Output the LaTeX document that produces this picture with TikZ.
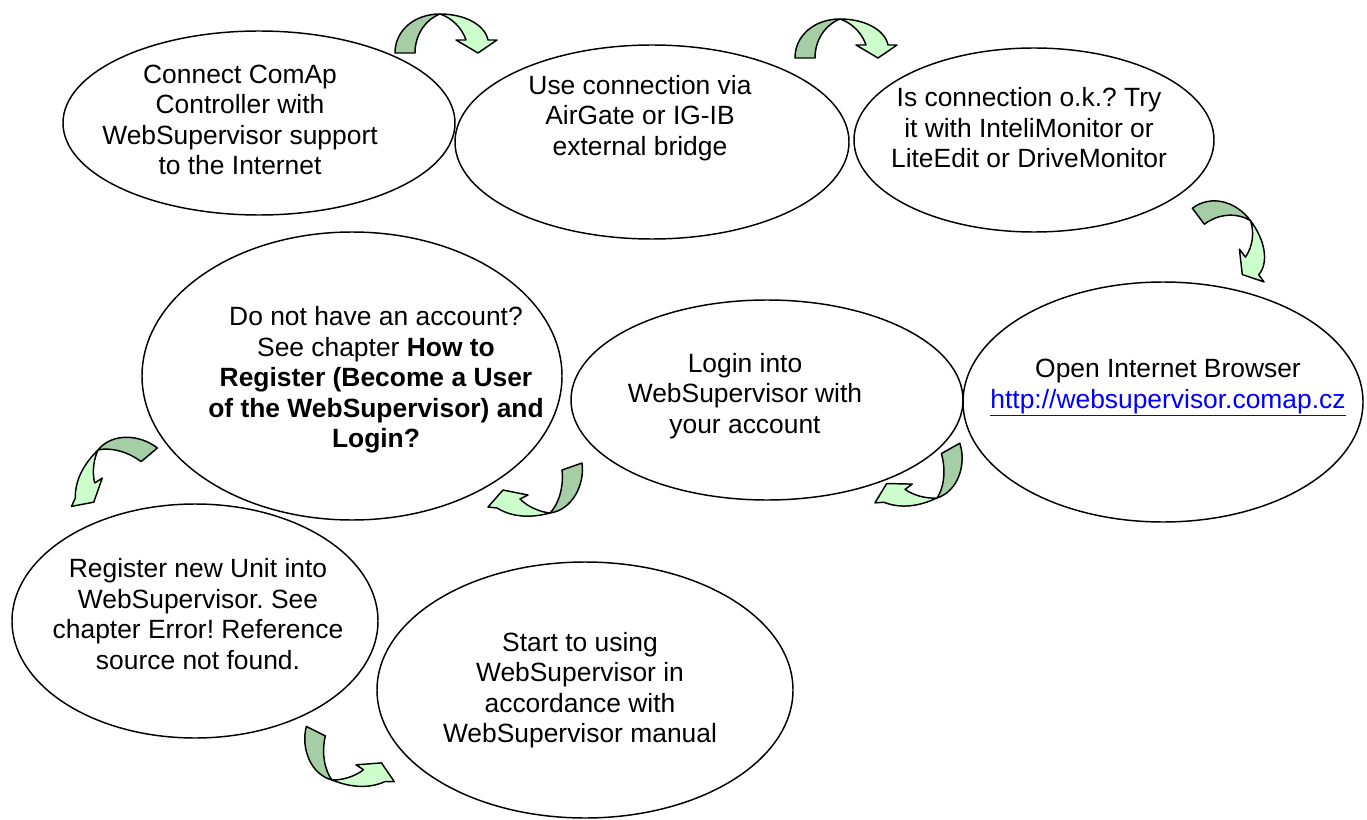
\documentclass[tikz,border=0pt]{standalone}
\usepackage{fontspec}
\setmainfont{Liberation Sans}
\usetikzlibrary{shapes.geometric}
\definecolor{arrdark}{RGB}{166,206,166}
\definecolor{arrlight}{RGB}{204,255,204}
\definecolor{linkblue}{RGB}{0,0,255}
\newcommand{\diafont}{\fontsize{19.8pt}{22.9pt}\selectfont\frenchspacing}
\begin{document}
\begin{tikzpicture}[x=0.75pt,y=-0.75pt,
  ell/.style 2 args={ellipse, draw, line width=1.1pt, inner sep=0pt,
    minimum width={#1*1.5pt}, minimum height={#2*1.5pt}},
  txt/.style={align=center, inner sep=0pt, font=\diafont},
  arrpart/.style={draw=black, line width=1.1pt, line join=round},
  pics/uarrow/.style={code={
    \filldraw[arrpart, fill=arrdark] (-46,0) .. controls (-46,-23) and (-26,-39) .. (-1,-39)
      .. controls (-16,-33) and (-26,-18) .. (-26,0) -- cycle;
    \filldraw[arrpart, fill=arrlight] (-1,-39) .. controls (24,-39) and (44,-28) .. (47,-13)
      -- (56,-13) -- (37,0) -- (15,-13) -- (25,-13)
      .. controls (21,-25) and (11,-35) .. (-1,-39) -- cycle;
  }},
  pics/qarrow/.style={code={
    \filldraw[arrpart, fill=arrdark] (32,-50) .. controls (35,-28) and (22,-3) .. (0,0)
      .. controls (8,-8) and (14,-25) .. (12,-43) -- cycle;
    \filldraw[arrpart, fill=arrlight] (0,0) .. controls (-15,4) and (-35,6) .. (-53,-5)
      -- (-62,-6) -- (-47,-23) -- (-22,-18) -- (-30,-14)
      .. controls (-22,-6) and (-10,-1) .. (0,0) -- cycle;
  }}]
\fill[white] (0,0) rectangle (1367,820);
\useasboundingbox (0,0) rectangle (1367,820);

% ellipses
\node[ell={196}{92}]  (e1) at (259,123) {};
\node[ell={197}{97}]  (e2) at (652,142) {};
\node[ell={180}{92}]  (e3) at (1034,140) {};
\node[ell={200}{120}] (e4) at (1163,402) {};
\node[ell={196}{100}] (e5) at (767,400) {};
\node[ell={210}{144}] (e6) at (352,376) {};
\node[ell={183}{117}] (e7) at (195,621) {};
\node[ell={208}{128}] (e8) at (585,690) {};

% texts
\node[txt] (t1) at (240,120) {Connect ComAp\\Controller with\\WebSupervisor support\\to the Internet};
\node[txt] (t2) at (640,118) {Use connection via\\AirGate or IG-IB\\external bridge};
\node[txt] (t3) at (1029,128) {Is connection o.k.? Try\\it with InteliMonitor or\\LiteEdit or DriveMonitor};
\node[txt] (t4) at (1168,388) {Open Internet Browser\\\textcolor{linkblue}{\underline{http://websupervisor.comap.cz}}};
\node[txt] (t5) at (745,396) {Login into\\WebSupervisor with\\your account};
\node[txt] (t6) at (376,380) {Do not have an account?\\See chapter \textbf{How to}\\\textbf{Register (Become a User}\\\textbf{of the WebSupervisor) and}\\\textbf{Login?}};
\node[txt] (t7) at (198,614) {Register new Unit into\\WebSupervisor. See\\chapter Error! Reference\\source not found.};
\node[txt] (t8) at (580,690) {Start to using\\WebSupervisor in\\accordance with\\WebSupervisor manual};

% curved arrows
\pic (a1) at (441,53) {uarrow};
\pic (a2) at (841,58) {uarrow};
\pic[rotate=-53] (a3) at (1220,245) {uarrow};
\pic[rotate=10] (a4) at (937,498) {qarrow};
\pic (a5) at (550,513) {qarrow};
\pic[rotate=-120.7, xscale=-1] (a6) at (98,450) {qarrow};
\pic[rotate=-7, xscale=-1] (a7) at (332,780) {qarrow};
\end{tikzpicture}
\end{document}
